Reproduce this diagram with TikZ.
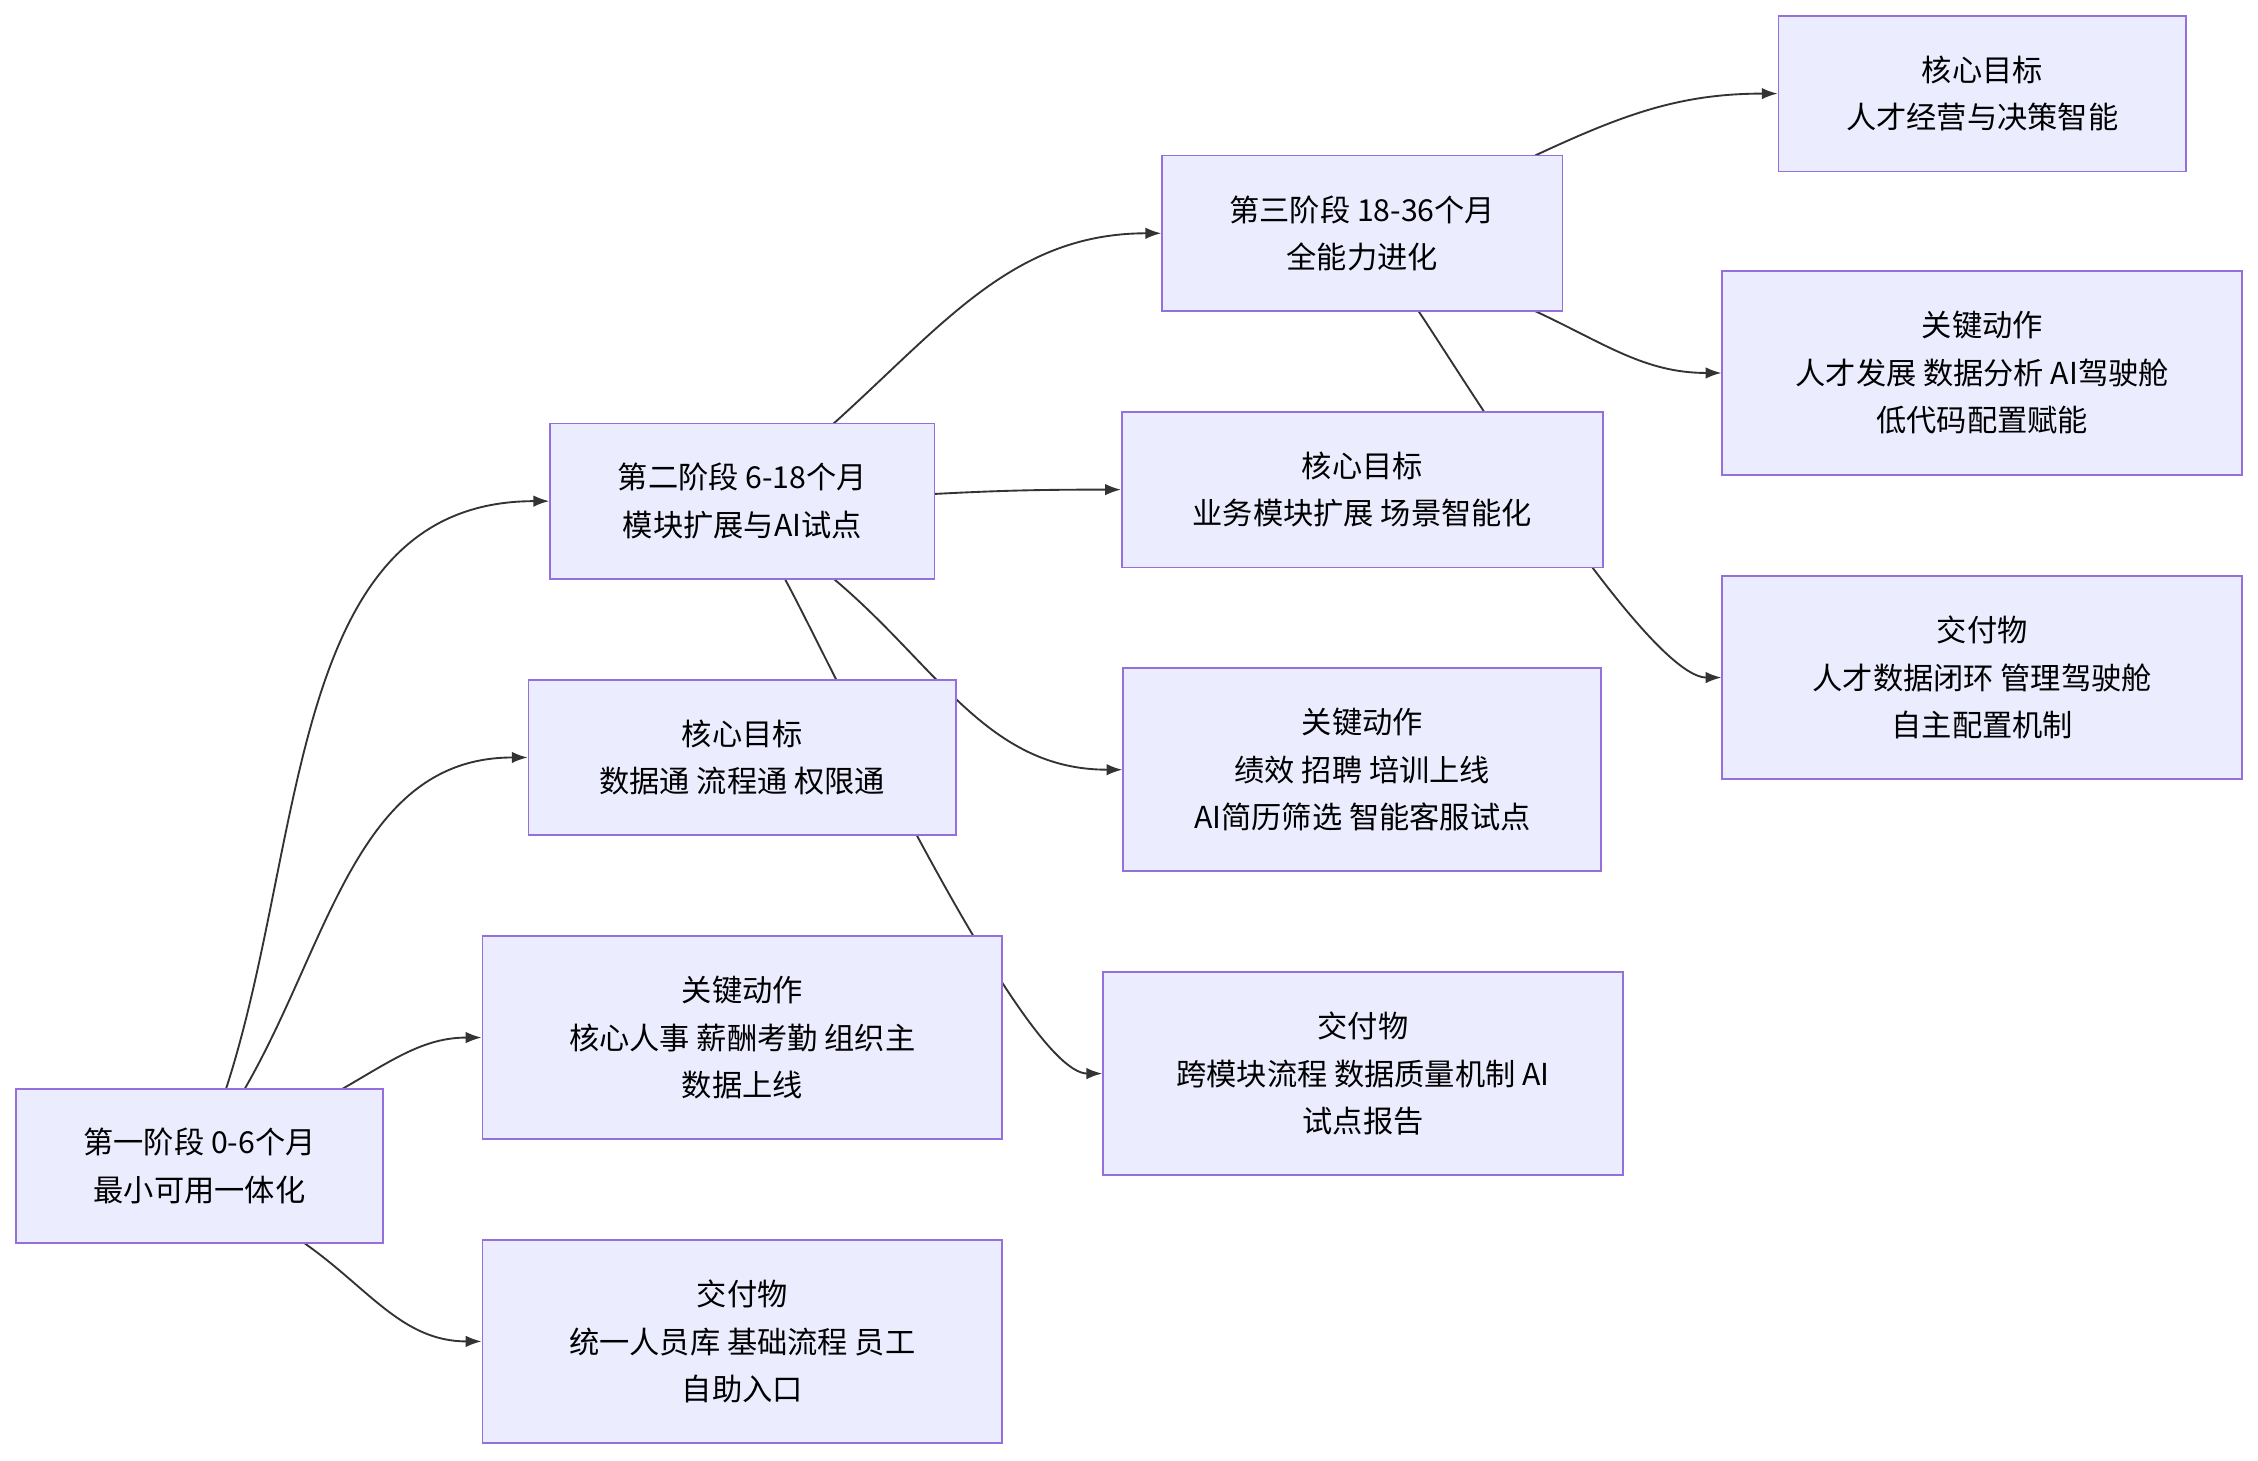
\documentclass[tikz,border=0pt]{standalone}
\usepackage{fontspec}
\setmainfont{Noto Sans CJK SC}
\usetikzlibrary{calc,arrows.meta}
\pgfdeclarelayer{bg}\pgfsetlayers{bg,main}
\begin{document}
\begin{tikzpicture}[x=1pt,y=1pt,
 box/.style={draw=bd,fill=bf,line width=1.2pt,align=center,inner sep=0pt,font=\fontsize{21}{33}\selectfont},
 ed/.style={draw=ec,line width=1.3pt,-{Latex[length=11pt,width=8pt]}}]
\definecolor{bf}{HTML}{ECECFF}\definecolor{bd}{HTML}{9370DB}\definecolor{ec}{HTML}{333333}
\useasboundingbox (0,0) rectangle (1568,-1014);
\newcommand\bx[6]{\node[box,minimum width=#4-#2,minimum height=#5-#3] (#1) at ({(#2+#4)/2},{-(#3+#5)/2}) {#6};}
\bx{p1}{11}{756}{266}{863}{第一阶段 0-6个月\\最小可用一体化}
\bx{g1}{367}{472}{664}{580}{核心目标\\数据通 流程通 权限通}
\bx{a1}{335}{650}{696}{791}{关键动作\\核心人事 薪酬考勤 组织主\\数据上线}
\bx{d1}{335}{861}{696}{1002}{交付物\\统一人员库 基础流程 员工\\自助入口}
\bx{p2}{382}{294}{649}{402}{第二阶段 6-18个月\\模块扩展与AI试点}
\bx{g2}{779}{286}{1113}{394}{核心目标\\业务模块扩展 场景智能化}
\bx{a2}{780}{464}{1112}{605}{关键动作\\绩效 招聘 培训上线\\AI简历筛选 智能客服试点}
\bx{d2}{766}{675}{1127}{816}{交付物\\跨模块流程 数据质量机制 AI\\试点报告}
\bx{p3}{807}{108}{1085}{216}{第三阶段 18-36个月\\全能力进化}
\bx{g3}{1235}{11}{1518}{119}{核心目标\\人才经营与决策智能}
\bx{a3}{1196}{188}{1557}{330}{关键动作\\人才发展 数据分析 AI驾驶舱\\低代码配置赋能}
\bx{d3}{1196}{400}{1557}{541}{交付物\\人才数据闭环 管理驾驶舱\\自主配置机制}
\begin{pgfonlayer}{bg}
\draw[ed] (157,-756) to[out=72,in=180] (p2.west);
\draw[ed] (170,-756) to[out=60,in=180] (g1.west);
\draw[ed] (238,-756) to[out=30,in=180] (a1.west);
\draw[ed] (211,-863) to[out=-35,in=180] (d1.west);
\draw[ed] (579,-294) to[out=42,in=180] (p3.west);
\draw[ed] (649,-343) to[out=3,in=180] (g2.west);
\draw[ed] (579,-402) to[out=-40,in=180] (a2.west);
\draw[ed] (545,-402) to[out=-61,in=180,looseness=0.35] (d2.west);
\draw[ed] (1066,-108) to[out=25,in=180] (g3.west);
\draw[ed] (1066,-216) to[out=-25,in=180] (a3.west);
\draw[ed] (985,-216) to[out=-56,in=180,looseness=0.4] (d3.west);
\end{pgfonlayer}
\end{tikzpicture}
\end{document}
